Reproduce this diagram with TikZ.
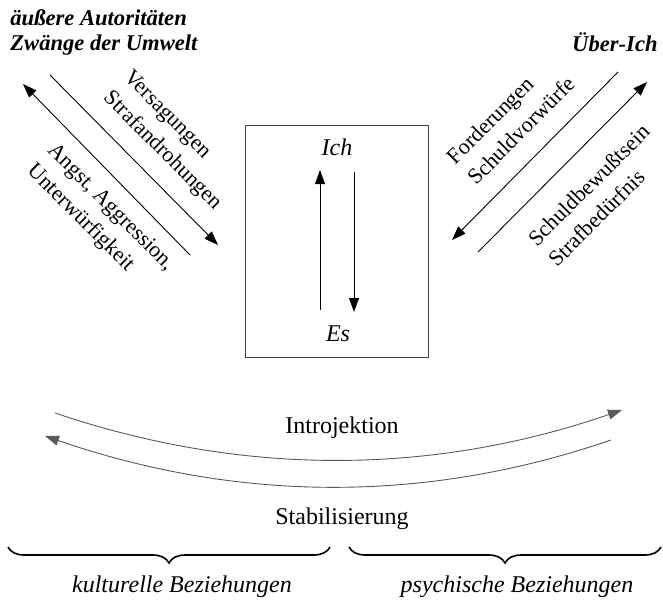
\documentclass[tikz,border=0pt]{standalone}
\usepackage{fontspec}
\setmainfont{Liberation Serif}
\usetikzlibrary{positioning,arrows.meta,decorations.pathreplacing}

\begin{document}
\begin{tikzpicture}[x=0.5pt,y=-0.5pt,
    flowarrow/.style={-{Triangle[length=7pt,width=5pt]},line width=0.45pt},
    curvearrow/.style={-{Triangle[length=7pt,width=5pt]},line width=0.45pt,black!65},
    slanted/.style={font=\fontsize{11}{14.5}\selectfont,align=left,inner sep=0pt},
    heading/.style={font=\fontsize{11.3}{12.5}\selectfont\bfseries\itshape,inner sep=0pt},
    plain/.style={font=\fontsize{12}{14}\selectfont,inner sep=0pt},
    bracket/.style={decorate,decoration={brace,mirror,amplitude=8pt},line width=0.8pt}]
  \useasboundingbox (0,0) rectangle (663,605);

  % outer labels
  \node[heading,anchor=north west,align=left] (aussen) at (10,9) {äußere Autoritäten\\Zwänge der Umwelt};
  \node[heading,anchor=base east] (ueberich) at (658,51) {Über-Ich};

  % ego box
  \node[draw=black!75,line width=0.4pt,minimum width=91.5pt,minimum height=116pt] (ego) at (336.5,241) {};
  \node[plain,font=\fontsize{12}{14}\selectfont\itshape] (ich) at (337,147) {Ich};
  \node[plain,font=\fontsize{12}{14}\selectfont\itshape] (es) at (338,334) {Es};
  \coordinate (up0) at (320,310);
  \coordinate (up1) at (320,170);
  \coordinate (dn0) at (354,172);
  \coordinate (dn1) at (354,312);

  % diagonal labels
  \node[slanted,rotate=-45] (versag) at (172,141) {Versagungen\\Strafandrohungen};
  \node[slanted,rotate=-45] (angst) at (100,218) {Angst, Aggression,\\Unterwürfigkeit};
  \node[slanted,rotate=45] (forder) at (511,120) {Forderungen\\Schuldvorwürfe};
  \node[slanted,rotate=45] (schuld) at (599,195) {Schuldbewußtsein\\Strafbedürfnis};
  \coordinate (a0) at (190,255);
  \coordinate (a1) at (23,84);
  \coordinate (b0) at (50,75);
  \coordinate (b1) at (218,245);
  \coordinate (c0) at (618,72);
  \coordinate (c1) at (452,240);
  \coordinate (d0) at (478,252);
  \coordinate (d1) at (647,82);

  % bottom
  \node[plain,anchor=base] (intro) at (342,433) {Introjektion};
  \node[plain,anchor=base] (stab) at (342,524) {Stabilisierung};
  \node[plain,font=\fontsize{12}{14}\selectfont\itshape,anchor=base] (kult) at (182,592) {kulturelle Beziehungen};
  \node[plain,font=\fontsize{12}{14}\selectfont\itshape,anchor=base] (psych) at (517,592) {psychische Beziehungen};
  \coordinate (in0) at (55,413);
  \coordinate (in1) at (622,410);
  \coordinate (st0) at (611,440);
  \coordinate (st1) at (45,436);
  \coordinate (kl) at (8,547);
  \coordinate (kr) at (330,547);
  \coordinate (pl) at (349,547);
  \coordinate (pr) at (661,547);

  % arrows
  \draw[flowarrow] (up0) -- (up1);
  \draw[flowarrow] (dn0) -- (dn1);
  \draw[flowarrow] (a0) -- (a1);
  \draw[flowarrow] (b0) -- (b1);
  \draw[flowarrow] (c0) -- (c1);
  \draw[flowarrow] (d0) -- (d1);
  \draw[curvearrow] (in0) .. controls (244,477) and (433,475) .. (in1);
  \draw[curvearrow] (st0) .. controls (422,505) and (234,501) .. (st1);
  \draw[bracket] (kl) -- (kr);
  \draw[bracket] (pl) -- (pr);
\end{tikzpicture}
\end{document}
